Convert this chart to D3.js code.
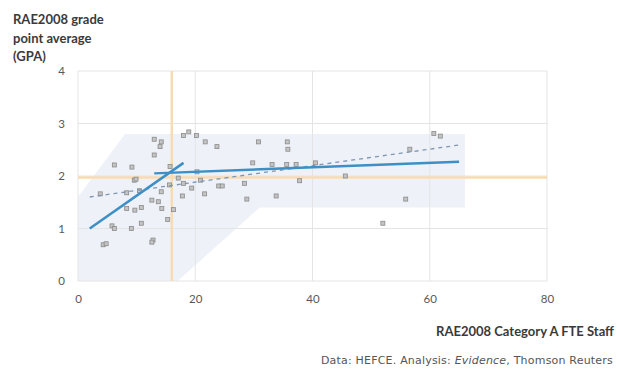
<!DOCTYPE html>
<html>
<head>
<meta charset="utf-8">
<script src="https://cdn.jsdelivr.net/npm/d3@7"></script>
<style>
  body { margin: 0; background: #fff; }
  text { font-family: Lato, "Open Sans", sans-serif; }
</style>
</head>
<body>
<div id="chart"></div>
<script>
// scatter: FTE staff vs GPA
var staff = [13.0, 14.2, 14.0, 13.0, 6.2, 9.2, 9.6, 9.9, 3.8, 8.3, 10.5, 14.2, 12.6, 13.7, 14.3,
  8.3, 9.7, 10.8, 10.8, 5.8, 6.2, 9.1, 15.3, 12.8, 12.6, 4.3, 4.8, 16.3,
  18.0, 18.9, 20.2, 21.7, 23.7, 30.8, 29.8, 15.7, 20.3, 17.1, 15.6, 18.0, 20.9, 19.4,
  24.0, 24.6, 28.4, 21.6, 17.8, 28.8,
  35.7, 35.8, 33.1, 35.6, 37.2, 40.5, 37.8, 45.6, 33.8,
  60.7, 61.8, 56.6, 55.9, 52.0];
var gpa = [2.70, 2.65, 2.56, 2.40, 2.21, 2.17, 1.92, 1.94, 1.66, 1.68, 1.72, 1.70, 1.54, 1.51, 1.38,
  1.38, 1.35, 1.40, 1.10, 1.05, 1.00, 1.00, 1.17, 0.78, 0.74, 0.69, 0.71, 1.36,
  2.77, 2.84, 2.77, 2.65, 2.56, 2.65, 2.25, 2.18, 2.08, 1.96, 1.83, 1.86, 1.92, 1.77,
  1.81, 1.81, 1.86, 1.66, 1.62, 1.56,
  2.65, 2.51, 2.22, 2.22, 2.22, 2.25, 1.91, 2.00, 1.62,
  2.81, 2.76, 2.51, 1.56, 1.10];

// confidence band outline
var bandX = [0, 8, 66, 66, 31, 17, 0];
var bandY = [1.6, 2.8, 2.8, 1.4, 1.4, 0, 0];

// piecewise fit and overall trend
var fit1 = [[2, 1.0], [18, 2.25]];
var fit2 = [[13, 2.05], [65, 2.27]];
var trend = [[2, 1.6], [65, 2.59]];

var thresholdX = 16, thresholdY = 1.97;

var xTicks = [0, 20, 40, 60, 80];
var yTicks = [0, 1, 2, 3, 4];

var W = 617, H = 378;
var margin = {top: 71, right: 70, bottom: 97, left: 78};

var x = d3.scaleLinear().domain([0, 80]).range([margin.left, W - margin.right]);
var y = d3.scaleLinear().domain([0, 4]).range([H - margin.bottom, margin.top]);

var svg = d3.select('#chart').append('svg')
  .attr('width', W)
  .attr('height', H);

// band
svg.append('path')
  .datum(bandX.map(function(d, i) { return [d, bandY[i]]; }))
  .attr('d', d3.line().x(function(d) { return x(d[0]); }).y(function(d) { return y(d[1]); }))
  .attr('fill', '#eef2f8');

// grid
svg.append('g').selectAll('line.h')
  .data(yTicks).enter().append('line')
    .attr('x1', x(0)).attr('x2', x(80))
    .attr('y1', function(d) { return y(d); })
    .attr('y2', function(d) { return y(d); })
    .attr('stroke', '#e4e4e4').attr('stroke-width', 1);
svg.append('g').selectAll('line.v')
  .data(xTicks).enter().append('line')
    .attr('y1', y(0)).attr('y2', y(4))
    .attr('x1', function(d) { return x(d); })
    .attr('x2', function(d) { return x(d); })
    .attr('stroke', '#e4e4e4').attr('stroke-width', 1);

// threshold lines
svg.append('line')
  .attr('x1', x(0)).attr('x2', x(80))
  .attr('y1', y(thresholdY)).attr('y2', y(thresholdY))
  .attr('stroke', '#f8dbb0').attr('stroke-width', 2.5);
svg.append('line')
  .attr('x1', x(thresholdX)).attr('x2', x(thresholdX))
  .attr('y1', y(0)).attr('y2', y(4))
  .attr('stroke', '#f8dbb0').attr('stroke-width', 2.5);

// axes labels
var yAxis = d3.axisLeft(y).tickValues(yTicks).tickFormat(d3.format('d')).tickSize(0).tickPadding(13);
svg.append('g')
  .attr('transform', 'translate(' + margin.left + ',0)')
  .call(yAxis)
  .call(function(g) { g.select('.domain').remove(); })
  .selectAll('text')
    .attr('fill', '#595959')
    .style('font-size', '11.5px');

var xAxis = d3.axisBottom(x).tickValues(xTicks).tickFormat(d3.format('d')).tickSize(0).tickPadding(14);
svg.append('g')
  .attr('transform', 'translate(0,' + y(0) + ')')
  .call(xAxis)
  .call(function(g) { g.select('.domain').remove(); })
  .selectAll('text')
    .attr('fill', '#595959')
    .style('font-size', '11.5px');

// points
svg.append('g').selectAll('rect')
  .data(staff).enter().append('rect')
    .attr('x', function(d) { return x(d) - 2; })
    .attr('y', function(d, i) { return y(gpa[i]) - 2; })
    .attr('width', 4).attr('height', 4)
    .attr('fill', '#c4c4c4')
    .attr('stroke', '#8a8a8a')
    .attr('stroke-width', 0.8);

var line = d3.line().x(function(d) { return x(d[0]); }).y(function(d) { return y(d[1]); });

svg.append('path').datum(trend)
  .attr('d', line)
  .attr('fill', 'none')
  .attr('stroke', '#7f95b0')
  .attr('stroke-width', 1.3)
  .attr('stroke-dasharray', '4,4');

[fit1, fit2].forEach(function(seg) {
  svg.append('path').datum(seg)
    .attr('d', line)
    .attr('fill', 'none')
    .attr('stroke', '#3d8fc6')
    .attr('stroke-width', 2.5);
});

// titles
var ytitle = svg.append('text')
  .attr('x', 13).attr('y', 24)
  .attr('fill', '#3a3a3a')
  .style('font-size', '13px')
  .style('font-weight', 'bold');
['RAE2008 grade', 'point average', '(GPA)'].forEach(function(t, i) {
  ytitle.append('tspan').attr('x', 13).attr('dy', i ? 18.5 : 0).text(t);
});

svg.append('text')
  .attr('x', 614).attr('y', 336)
  .attr('text-anchor', 'end')
  .attr('fill', '#3a3a3a')
  .style('font-size', '13px')
  .style('font-weight', 'bold')
  .text('RAE2008 Category A FTE Staff');

var src = svg.append('text')
  .attr('x', 613).attr('y', 364)
  .attr('text-anchor', 'end')
  .attr('fill', '#555')
  .style('font-family', '"DejaVu Sans", sans-serif')
  .style('font-size', '11px')
  .style('letter-spacing', '0.2px');
src.append('tspan').text('Data: HEFCE. Analysis: ');
src.append('tspan').style('font-style', 'italic').text('Evidence');
src.append('tspan').text(', Thomson Reuters');
</script>
</body>
</html>
